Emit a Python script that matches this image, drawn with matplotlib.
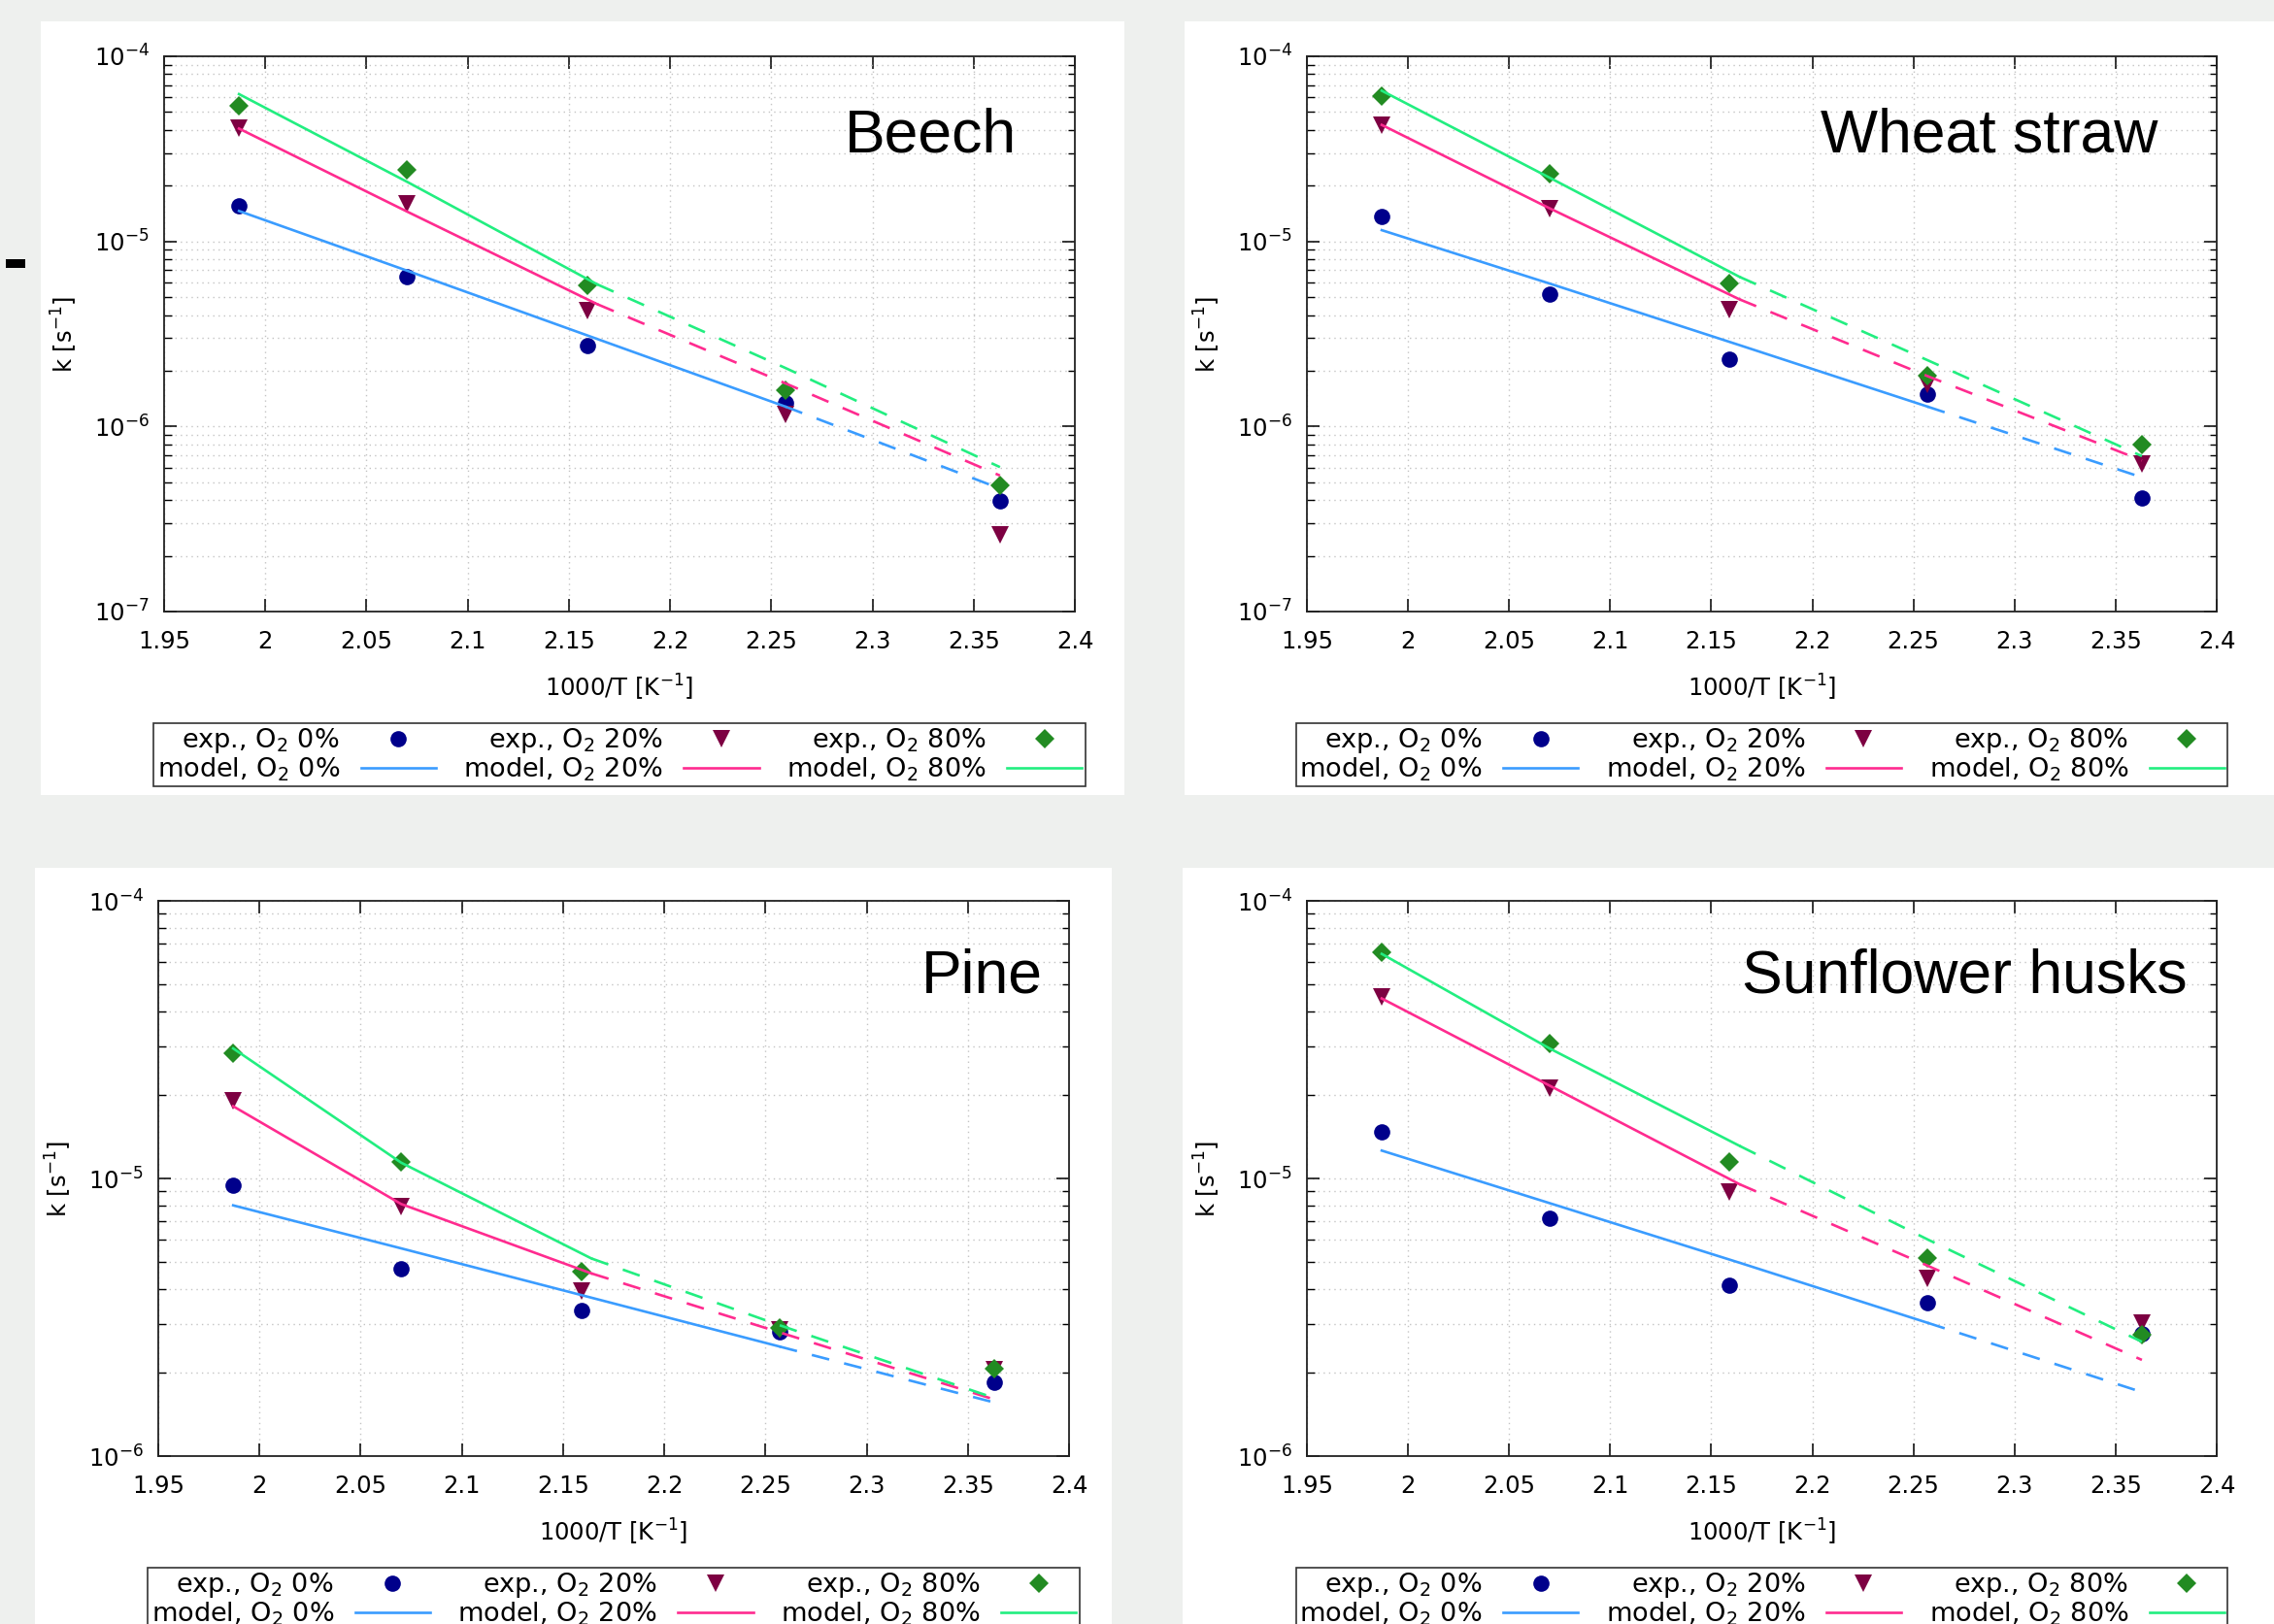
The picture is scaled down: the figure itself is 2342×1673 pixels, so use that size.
import matplotlib
matplotlib.use("Agg")
import matplotlib.pyplot as plt
from matplotlib.patches import Rectangle
from matplotlib.ticker import LogLocator, MultipleLocator, NullFormatter, FormatStrFormatter

W, H = 2342, 1673

inv_T = [1.987, 2.070, 2.159, 2.257, 2.363]
model_x = [1.987, 2.070, 2.164, 2.257, 2.363]

o2_labels = ["O$_2$ 0%", "O$_2$ 20%", "O$_2$ 80%"]

# experimental rate constants k [1/s]
beech_exp_0 = [1.56e-5, 6.48e-6, 2.74e-6, 1.34e-6, 3.94e-7]
beech_exp_20 = [4.07e-5, 1.59e-5, 4.24e-6, 1.16e-6, 2.60e-7]
beech_exp_80 = [5.41e-5, 2.43e-5, 5.81e-6, 1.57e-6, 4.80e-7]
wheat_exp_0 = [1.36e-5, 5.21e-6, 2.30e-6, 1.50e-6, 4.12e-7]
wheat_exp_20 = [4.26e-5, 1.51e-5, 4.28e-6, 1.68e-6, 6.30e-7]
wheat_exp_80 = [6.10e-5, 2.32e-5, 5.91e-6, 1.89e-6, 7.94e-7]
pine_exp_0 = [9.49e-6, 4.72e-6, 3.34e-6, 2.80e-6, 1.84e-6]
pine_exp_20 = [1.90e-5, 7.92e-6, 3.93e-6, 2.84e-6, 2.04e-6]
pine_exp_80 = [2.82e-5, 1.15e-5, 4.62e-6, 2.90e-6, 2.06e-6]
sun_exp_0 = [1.47e-5, 7.16e-6, 4.11e-6, 3.56e-6, 2.75e-6]
sun_exp_20 = [4.52e-5, 2.11e-5, 8.97e-6, 4.35e-6, 3.02e-6]
sun_exp_80 = [6.53e-5, 3.05e-5, 1.15e-5, 5.15e-6, 2.74e-6]

# model curves at model_x
beech_mod_0 = [1.46e-5, 6.95e-6, 2.97e-6, 1.28e-6, 4.62e-7]
beech_mod_20 = [4.07e-5, 1.45e-5, 4.58e-6, 1.71e-6, 5.43e-7]
beech_mod_80 = [6.25e-5, 2.10e-5, 5.86e-6, 2.07e-6, 6.03e-7]
wheat_mod_0 = [1.15e-5, 5.92e-6, 2.75e-6, 1.28e-6, 5.31e-7]
wheat_mod_20 = [4.26e-5, 1.51e-5, 4.86e-6, 1.87e-6, 6.55e-7]
wheat_mod_80 = [6.52e-5, 2.21e-5, 6.43e-6, 2.28e-6, 6.92e-7]
pine_mod_0 = [8.00e-6, 5.60e-6, 3.72e-6, 2.48e-6, 1.56e-6]
pine_mod_20 = [1.82e-5, 8.09e-6, 4.55e-6, 2.79e-6, 1.60e-6]
pine_mod_80 = [2.94e-5, 1.14e-5, 5.15e-6, 2.96e-6, 1.62e-6]
sun_mod_0 = [1.26e-5, 8.15e-6, 4.97e-6, 3.02e-6, 1.70e-6]
sun_mod_20 = [4.45e-5, 2.16e-5, 9.53e-6, 4.85e-6, 2.22e-6]
sun_mod_80 = [6.44e-5, 2.94e-5, 1.31e-5, 6.03e-6, 2.58e-6]

# last model point that is still fitted range (solid), rest is extrapolated
solid_end = [3, 2, 2]

marker_styles = [("o", 12, "#00008b"), ("v", 12.5, "#7d0042"), ("D", 10, "#228b22")]
line_colors = ["#3a9cff", "#ff2b8f", "#22ee80"]

panels = [
    ("Beech", [beech_exp_0, beech_exp_20, beech_exp_80],
     [beech_mod_0, beech_mod_20, beech_mod_80], 1e-7, (169, 58, 1107, 630), (0.936, 0.828)),
    ("Wheat straw", [wheat_exp_0, wheat_exp_20, wheat_exp_80],
     [wheat_mod_0, wheat_mod_20, wheat_mod_80], 1e-7, (1346, 58, 2283, 630), (0.935, 0.828)),
    ("Pine", [pine_exp_0, pine_exp_20, pine_exp_80],
     [pine_mod_0, pine_mod_20, pine_mod_80], 1e-6, (163, 928, 1101, 1500), (0.971, 0.835)),
    ("Sunflower husks", [sun_exp_0, sun_exp_20, sun_exp_80],
     [sun_mod_0, sun_mod_20, sun_mod_80], 1e-6, (1346, 928, 2283, 1500), (0.968, 0.835)),
]

cards = [(42, 22, 1158, 819), (1220, 22, 2342, 819), (36, 894, 1145, 1673), (1218, 894, 2342, 1673)]

fs = 17.5
plt.rcParams["font.family"] = "DejaVu Sans"
plt.rcParams["mathtext.fontset"] = "dejavusans"
plt.rcParams["axes.unicode_minus"] = False

fig = plt.figure(figsize=(W / 100, H / 100), dpi=100, facecolor="#eef0ee")

for x0, y0, x1, y1 in cards:
    fig.add_artist(Rectangle((x0 / W, 1 - y1 / H), (x1 - x0) / W, (y1 - y0) / H,
                             transform=fig.transFigure, facecolor="white",
                             edgecolor="none", zorder=-5))
# small dark mark at the left edge of the screenshot
fig.add_artist(Rectangle((6 / W, 1 - 276 / H), 20 / W, 9 / H, transform=fig.transFigure,
                         facecolor="black", edgecolor="none", zorder=-4))

for title, exps, mods, ymin, (l, t, r, b), (tx, ty) in panels:
    ax = fig.add_axes([l / W, 1 - b / H, (r - l) / W, (b - t) / H])
    ax.set_xlim(1.95, 2.4)
    ax.set_yscale("log")
    ax.set_ylim(ymin, 1e-4)

    handles = []
    for i in range(3):
        m, ms, c = marker_styles[i]
        pts, = ax.plot(inv_T, exps[i], ls="none", marker=m, ms=ms, color=c,
                       markeredgewidth=0, zorder=3)
        k = solid_end[i]
        ln, = ax.plot(model_x[:k + 1], mods[i][:k + 1], color=line_colors[i], lw=1.9, zorder=4)
        ax.plot(model_x[k:], mods[i][k:], color=line_colors[i], lw=1.9,
                ls=(0, (7, 6)), zorder=4)
        handles += [(pts, "exp., " + o2_labels[i]), (ln, "model, " + o2_labels[i])]

    ax.xaxis.set_major_locator(MultipleLocator(0.05))
    ax.xaxis.set_major_formatter(FormatStrFormatter("%g"))
    ax.yaxis.set_major_locator(LogLocator(base=10, numticks=10))
    ax.yaxis.set_minor_locator(LogLocator(base=10, subs=range(2, 10), numticks=20))
    ax.yaxis.set_minor_formatter(NullFormatter())
    ax.tick_params(which="both", direction="in", top=True, right=True, color="black")
    ax.tick_params(which="major", length=9.5, width=1.1, labelsize=fs)
    ax.tick_params(which="minor", length=5.4, width=1.0)
    ax.tick_params(axis="x", pad=14)
    ax.tick_params(axis="y", pad=11)
    ax.grid(which="major", axis="x", ls=(0, (1, 3)), color="#c4c4c4", lw=1.0, zorder=0)
    ax.grid(which="both", axis="y", ls=(0, (1, 3)), color="#c4c4c4", lw=1.0, zorder=0)
    for sp in ax.spines.values():
        sp.set_linewidth(1.3)
        sp.set_color("#222222")

    ax.set_xlabel("1000/T [K$^{-1}$]", fontsize=fs, va="center")
    ax.xaxis.set_label_coords(0.5, -0.138)
    ax.set_ylabel("k [s$^{-1}$]", fontsize=fs, va="center")
    ax.yaxis.set_label_coords(-0.109, 0.5)

    ax.text(tx, ty, title, transform=ax.transAxes, ha="right", va="baseline",
            fontsize=45, family="Liberation Sans", zorder=6)

    leg = ax.legend([h for h, _ in handles], [s for _, s in handles], ncol=3,
                    loc="upper center", bbox_to_anchor=(0.5, -0.201), markerfirst=False,
                    fontsize=19.5, numpoints=1, handlelength=2.85, handletextpad=0.8,
                    columnspacing=1.05, labelspacing=0.0, borderpad=0.12, borderaxespad=0,
                    fancybox=False, framealpha=1, edgecolor="#333333")
    leg.get_frame().set_linewidth(1.2)

fig.savefig("out.png", dpi=100, facecolor=fig.get_facecolor())
